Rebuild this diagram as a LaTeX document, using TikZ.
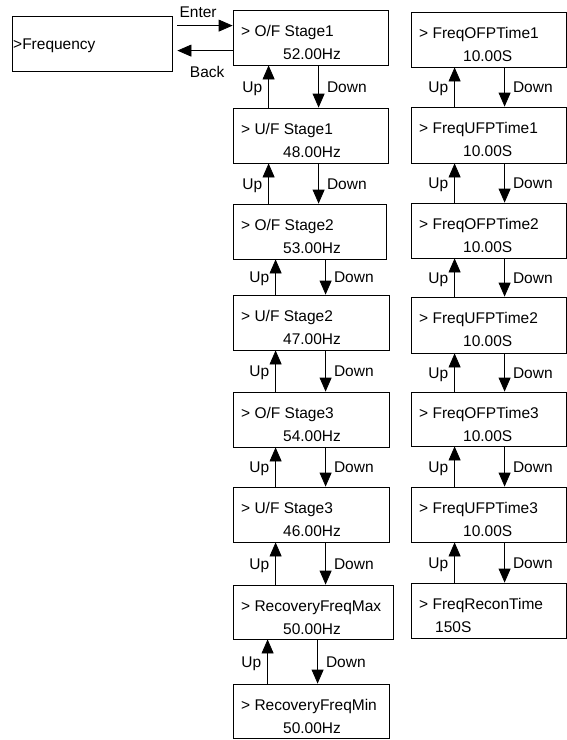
\documentclass[tikz,border=0pt]{standalone}
\usepackage{fontspec}
\setmainfont{Liberation Sans}
\usetikzlibrary{arrows.meta,fit}
\tikzset{
  box/.style={draw, line width=0.8pt, inner sep=0pt, rectangle},
  txt/.style={inner sep=0pt, font=\fontsize{15.5}{18}\selectfont},
  lbl/.style={inner sep=0pt, font=\fontsize{15.5}{18}\selectfont},
  arr/.style={line width=0.8pt, -{Triangle[width=12pt,length=14pt]}},
}
\newcommand\menubox[8]{%
  \coordinate (#1nw) at (#2,#3);
  \coordinate (#1se) at (#4,#5);
  \node[box, fit=(#1nw)(#1se)] (#1) {};
  \node[txt, anchor=base west] (#1a) at (#2+8,#3+26.5) {#7};
  \node[txt, anchor=base west] (#1b) at (#6,#3+49.5) {#8};
}
\newcommand\updown[4]{%
  \draw[arr] ([xshift=#3pt]#2.north west) -- node[lbl, anchor=base east, xshift=-6pt, yshift=-5.5pt] (#1#2u) {Up} ([xshift=#3pt]#1.south west);
  \draw[arr] ([xshift=#4pt]#1.south west) -- node[lbl, anchor=base west, xshift=8pt, yshift=-5.5pt] (#1#2d) {Down} ([xshift=#4pt]#2.north west);
}
\begin{document}
\begin{tikzpicture}[x=1pt, y=-1pt]
\useasboundingbox (0,0) rectangle (566,740);
% left box
\coordinate (fnw) at (12,16);
\coordinate (fse) at (172,71);
\node[box, fit=(fnw)(fse)] (freq) {};
\node[txt, anchor=base west] (freqt) at (13,49.5) {>Frequency};
% middle column
\menubox{b1}{233}{10}{388}{65}{283}{> O/F Stage1}{52.00Hz}
\menubox{b2}{233}{108}{388}{163}{283}{> U/F Stage1}{48.00Hz}
\menubox{b3}{233}{204}{386}{259}{283}{> O/F Stage2}{53.00Hz}
\menubox{b4}{233}{295}{389}{350}{283}{> U/F Stage2}{47.00Hz}
\menubox{b5}{233}{392}{389}{447}{283}{> O/F Stage3}{54.00Hz}
\menubox{b6}{233}{487}{389}{542}{283}{> U/F Stage3}{46.00Hz}
\menubox{b7}{233}{585}{393}{639}{283}{> RecoveryFreqMax}{50.00Hz}
\menubox{b8}{233}{684}{389}{738}{283}{> RecoveryFreqMin}{50.00Hz}
% right column
\menubox{r1}{411}{12}{566}{67}{463}{> FreqOFPTime1}{10.00S}
\menubox{r2}{411}{107}{566}{163}{463}{> FreqUFPTime1}{10.00S}
\menubox{r3}{411}{203}{566}{258}{463}{> FreqOFPTime2}{10.00S}
\menubox{r4}{411}{297}{566}{353}{463}{> FreqUFPTime2}{10.00S}
\menubox{r5}{411}{392}{566}{446}{463}{> FreqOFPTime3}{10.00S}
\menubox{r6}{411}{487}{566}{542}{463}{> FreqUFPTime3}{10.00S}
\menubox{r7}{411}{583}{566}{638}{435}{> FreqReconTime}{150S}
% enter / back
\draw[arr] ([xshift=5pt,yshift=-10pt]freq.north east) -- node[lbl, pos=0.375, anchor=base, yshift=8.5pt] (enter) {Enter} ([yshift=-16pt]b1.north west);
\draw[arr] ([yshift=-41pt]b1.north west) -- node[lbl, pos=0.46, anchor=base, yshift=-26.5pt] (back) {Back} ([xshift=5pt,yshift=-35pt]freq.north east);
% middle arrows
\updown{b1}{b2}{36}{86}
\updown{b2}{b3}{36}{86}
\updown{b3}{b4}{43}{93}
\updown{b4}{b5}{43}{93}
\updown{b5}{b6}{43}{93}
\updown{b6}{b7}{43}{93}
\updown{b7}{b8}{35}{85}
% right arrows
\updown{r1}{r2}{44}{94}
\updown{r2}{r3}{44}{94}
\updown{r3}{r4}{44}{94}
\updown{r4}{r5}{44}{94}
\updown{r5}{r6}{44}{94}
\updown{r6}{r7}{44}{94}
\end{tikzpicture}
\end{document}
